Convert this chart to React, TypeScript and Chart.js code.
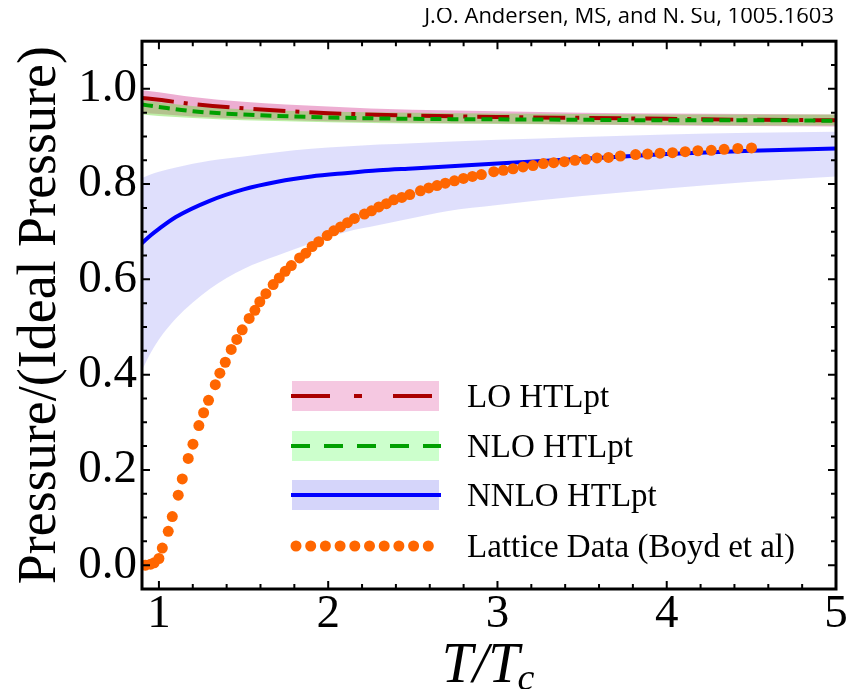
import React, { useEffect, useRef } from "react";
import { Chart, registerables } from "chart.js";

Chart.register(...registerables);

// ---- data ----
const xTicks = [1, 2, 3, 4, 5];
const yTicks = [0.0, 0.2, 0.4, 0.6, 0.8, 1.0];

// LO / NLO HTLpt bands
const bandT = [0.9, 1.0, 1.2, 1.5, 2.0, 2.5, 3.0, 3.5, 4.0, 4.5, 5.0];
const loCentral = [0.981, 0.977, 0.968, 0.959, 0.949, 0.944, 0.941, 0.939, 0.937, 0.935, 0.934];
const loUpper = [0.997, 0.993, 0.983, 0.973, 0.963, 0.956, 0.953, 0.95, 0.948, 0.947, 0.946];
const loLower = [0.95, 0.947, 0.942, 0.937, 0.932, 0.929, 0.927, 0.925, 0.923, 0.922, 0.921];
const nloCentral = [0.967, 0.962, 0.953, 0.946, 0.94, 0.937, 0.936, 0.935, 0.934, 0.934, 0.933];
const nloUpper = [0.976, 0.972, 0.964, 0.957, 0.952, 0.95, 0.948, 0.947, 0.946, 0.946, 0.946];
const nloLower = [0.946, 0.943, 0.939, 0.934, 0.93, 0.927, 0.926, 0.925, 0.924, 0.923, 0.923];

// NNLO HTLpt
const nnloT = [0.9, 0.95, 1.0, 1.1, 1.3, 1.5, 1.7, 1.9, 2.1, 2.3, 2.5, 2.7, 3.0, 3.5, 4.0, 4.5, 5.0];
const nnloCentral = [0.676, 0.692, 0.706, 0.731, 0.765, 0.789, 0.805, 0.816, 0.823, 0.829, 0.833, 0.837, 0.843, 0.853, 0.863, 0.87, 0.875];
const nnloUpper = [0.813, 0.82, 0.826, 0.835, 0.849, 0.858, 0.867, 0.874, 0.879, 0.883, 0.886, 0.889, 0.893, 0.899, 0.904, 0.908, 0.91];
const nnloLower = [0.409, 0.445, 0.474, 0.518, 0.58, 0.622, 0.65, 0.676, 0.699, 0.714, 0.729, 0.743, 0.756, 0.775, 0.791, 0.805, 0.816];

// Lattice data (Boyd et al)
const latticeT = [0.921, 0.951, 0.972, 1.0, 1.02, 1.055, 1.079, 1.114, 1.138, 1.173, 1.201, 1.236, 1.264, 1.293, 1.333, 1.36, 1.392, 1.427, 1.46, 1.492, 1.533, 1.567, 1.596, 1.632, 1.675, 1.711, 1.746, 1.782, 1.831, 1.868, 1.905, 1.944, 1.994, 2.033, 2.073, 2.114, 2.155, 2.214, 2.256, 2.299, 2.344, 2.387, 2.435, 2.482, 2.545, 2.594, 2.643, 2.692, 2.746, 2.799, 2.852, 2.905, 2.978, 3.035, 3.092, 3.151, 3.21, 3.271, 3.332, 3.395, 3.458, 3.521, 3.588, 3.656, 3.726, 3.816, 3.887, 3.96, 4.034, 4.109, 4.184, 4.263, 4.339, 4.42, 4.501];
const latticeP = [0.0, 0.002, 0.005, 0.014, 0.036, 0.071, 0.102, 0.147, 0.181, 0.224, 0.254, 0.293, 0.32, 0.346, 0.379, 0.403, 0.426, 0.453, 0.474, 0.494, 0.518, 0.535, 0.553, 0.57, 0.589, 0.603, 0.617, 0.629, 0.645, 0.655, 0.669, 0.679, 0.692, 0.702, 0.71, 0.719, 0.728, 0.737, 0.744, 0.752, 0.759, 0.767, 0.772, 0.778, 0.786, 0.792, 0.797, 0.802, 0.807, 0.812, 0.816, 0.82, 0.826, 0.829, 0.832, 0.836, 0.839, 0.843, 0.845, 0.847, 0.85, 0.852, 0.855, 0.856, 0.859, 0.862, 0.863, 0.865, 0.866, 0.868, 0.87, 0.871, 0.873, 0.875, 0.876];

const legendLabels = ["LO HTLpt", "NLO HTLpt", "NNLO HTLpt", "Lattice Data (Boyd et al)"];
const creditText = "J.O. Andersen, MS, and N. Su, 1005.1603";

// ---- styles ----
const RED = "#AA0000";
const GREEN = "#00A000";
const BLUE = "#0000FF";
const ORANGE = "#FF6600";
const PINK_FILL = "rgba(225,120,180,0.6)";
const GREEN_FILL = "rgba(110,220,60,0.45)";
const BLUE_FILL = "rgba(110,110,240,0.22)";
const SERIF = "Liberation Serif";

const pts = (xs: number[], ys: number[]) => xs.map((x, i) => ({ x, y: ys[i] }));

const framePlugin = {
  id: "frameTicks",
  afterDatasetsDraw(chart: any) {
    const { ctx, chartArea: a, scales } = chart;
    const xs = scales.x, ys = scales.y;
    ctx.save();
    ctx.strokeStyle = "#000";
    ctx.lineWidth = 2;
    const majorL = 8, minorL = 5;
    for (let i = 0; i <= 20; i++) {
      const v = 1 + i * 0.2;
      const px = xs.getPixelForValue(v);
      const L = i % 5 === 0 ? majorL : minorL;
      ctx.beginPath();
      ctx.moveTo(px, a.bottom); ctx.lineTo(px, a.bottom - L);
      ctx.moveTo(px, a.top); ctx.lineTo(px, a.top + L);
      ctx.stroke();
    }
    for (let i = -1; i <= 22; i++) {
      const v = i * 0.05;
      const py = ys.getPixelForValue(v);
      if (py < a.top + 1 || py > a.bottom - 1) continue;
      const L = i % 4 === 0 ? majorL : minorL;
      ctx.beginPath();
      ctx.moveTo(a.left, py); ctx.lineTo(a.left + L, py);
      ctx.moveTo(a.right, py); ctx.lineTo(a.right - L, py);
      ctx.stroke();
    }
    ctx.lineWidth = 3;
    ctx.strokeRect(a.left, a.top, a.right - a.left, a.bottom - a.top);
    ctx.restore();
  },
};

const decorPlugin = {
  id: "decor",
  afterDraw(chart: any) {
    const { ctx, chartArea: a } = chart;
    ctx.save();
    ctx.fillStyle = "#000";
    ctx.font = '22px "Open Sans", sans-serif';
    ctx.textAlign = "right";
    ctx.textBaseline = "alphabetic";
    ctx.fillText(creditText, a.right - 2, 15);

    const cx = (a.left + a.right) / 2;
    const big = 'italic 56px "' + SERIF + '", serif';
    const small = 'italic 38px "' + SERIF + '", serif';
    ctx.font = big;
    const w1 = ctx.measureText("T/T").width;
    ctx.font = small;
    const w2 = ctx.measureText("c").width;
    const x0 = cx - (w1 + w2) / 2;
    const base = 674;
    ctx.textAlign = "left";
    ctx.font = big;
    ctx.fillText("T/T", x0, base);
    ctx.font = small;
    ctx.fillText("c", x0 + w1 - 2, base + 8);

    const pl = 284, pw = 147, lx0 = 283, lx1 = 433, tx = 459;
    const rows = [388, 438, 487, 538];
    const fills = ["rgb(245,200,225)", "rgb(204,255,204)", "rgb(213,213,250)"];
    const colors = [RED, GREEN, BLUE];
    const dashes = [[39, 24, 8, 31], [19, 14], []];
    for (let i = 0; i < 3; i++) {
      const y = rows[i];
      ctx.fillStyle = fills[i];
      ctx.fillRect(pl, y - 15, pw, 30);
      ctx.strokeStyle = colors[i];
      ctx.lineWidth = 4;
      ctx.setLineDash(dashes[i]);
      ctx.beginPath();
      ctx.moveTo(lx0, y); ctx.lineTo(lx1, y);
      ctx.stroke();
      ctx.setLineDash([]);
    }
    ctx.fillStyle = ORANGE;
    for (let i = 0; i < 10; i++) {
      ctx.beginPath();
      ctx.arc(288 + i * 14.7, rows[3], 5.5, 0, Math.PI * 2);
      ctx.fill();
    }
    ctx.fillStyle = "#000";
    ctx.font = '33px "' + SERIF + '", serif';
    ctx.textAlign = "left";
    for (let i = 0; i < 4; i++) {
      ctx.fillText(legendLabels[i], tx, rows[i] + 11);
    }
    ctx.restore();
  },
};

export default function App() {
  const ref = useRef<HTMLCanvasElement>(null);
  useEffect(() => {
    const canvas = ref.current!;
    const lineBase = { pointRadius: 0, fill: false, cubicInterpolationMode: "monotone" as const };
    const chart = new Chart(canvas, {
      type: "line",
      data: {
        datasets: [
          {
            label: "Lattice",
            data: pts(latticeT, latticeP),
            showLine: false,
            pointRadius: 5.5,
            pointBackgroundColor: ORANGE,
            pointBorderWidth: 0,
            borderColor: ORANGE,
          },
          { ...lineBase, label: "NLO", data: pts(bandT, nloCentral), borderColor: GREEN, borderWidth: 4, borderDash: [11, 6] },
          { ...lineBase, label: "LO", data: pts(bandT, loCentral), borderColor: RED, borderWidth: 4, borderDash: [32, 10, 4, 10] },
          { ...lineBase, label: "NNLO", data: pts(nnloT, nnloCentral), borderColor: BLUE, borderWidth: 4 },
          { ...lineBase, label: "NLO up", data: pts(bandT, nloUpper), borderWidth: 0, fill: "+1", backgroundColor: GREEN_FILL },
          { ...lineBase, label: "NLO lo", data: pts(bandT, nloLower), borderWidth: 0 },
          { ...lineBase, label: "LO up", data: pts(bandT, loUpper), borderWidth: 0, fill: "+1", backgroundColor: PINK_FILL },
          { ...lineBase, label: "LO lo", data: pts(bandT, loLower), borderWidth: 0 },
          { ...lineBase, label: "NNLO up", data: pts(nnloT, nnloUpper), borderWidth: 0, fill: "+1", backgroundColor: BLUE_FILL },
          { ...lineBase, label: "NNLO lo", data: pts(nnloT, nnloLower), borderWidth: 0 },
        ],
      },
      options: {
        responsive: false,
        animation: false,
        events: [],
        layout: { padding: { left: 0, top: 27, right: 12, bottom: 0 } },
        plugins: {
          legend: { display: false },
          tooltip: { enabled: false },
          filler: { drawTime: "beforeDatasetsDraw" },
        } as any,
        scales: {
          x: {
            type: "linear",
            min: 0.9,
            max: 5,
            afterBuildTicks: (s: any) => { s.ticks = xTicks.map((v) => ({ value: v })); },
            afterFit: (s: any) => { s.height = 100; },
            grid: { display: false, drawTicks: false },
            border: { display: false },
            ticks: {
              color: "#000",
              font: { family: SERIF, size: 47 },
              padding: -3,
              maxRotation: 0,
              autoSkip: false,
              callback: (v: any) => String(v),
            },
          },
          y: {
            type: "linear",
            min: -0.05,
            max: 1.1,
            afterBuildTicks: (s: any) => { s.ticks = yTicks.map((v) => ({ value: v })); },
            afterFit: (s: any) => { s.width = 134; },
            grid: { display: false, drawTicks: false },
            border: { display: false },
            ticks: {
              color: "#000",
              font: { family: SERIF, size: 47 },
              padding: 5,
              autoSkip: false,
              callback: (v: any) => Number(v).toFixed(1),
            },
            title: {
              display: true,
              text: "Pressure/(Ideal Pressure)",
              color: "#000",
              font: { family: SERIF, size: 54 },
              padding: 0,
            },
          },
        },
      },
      plugins: [framePlugin, decorPlugin],
    });
    return () => chart.destroy();
  }, []);
  return (
    <div style={{ width: 840, height: 681 }}>
      <canvas ref={ref} width={840} height={681} style={{ display: "block" }} />
    </div>
  );
}
